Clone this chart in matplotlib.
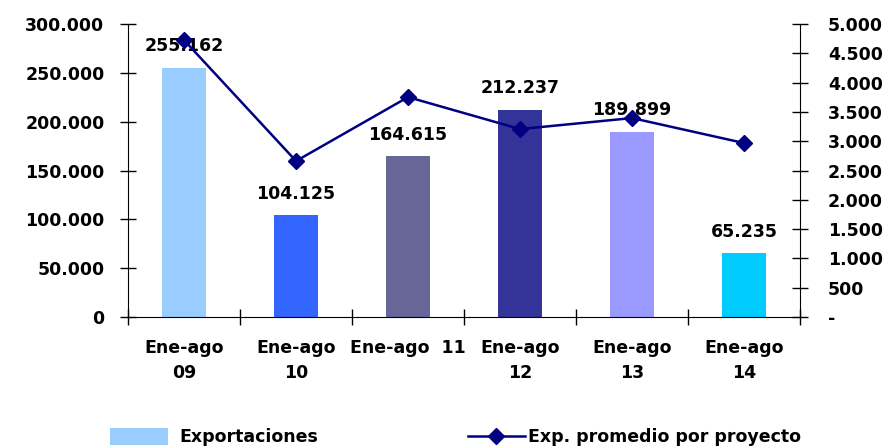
import matplotlib
matplotlib.use("Agg")
import matplotlib.pyplot as plt
from matplotlib.lines import Line2D
from matplotlib.patches import Patch
from matplotlib.ticker import FuncFormatter, FixedLocator, NullFormatter

# data
categories = ["Ene-ago\n09", "Ene-ago\n10", "Ene-ago  11", "Ene-ago\n12", "Ene-ago\n13", "Ene-ago\n14"]
exportaciones = [255162, 104125, 164615, 212237, 189899, 65235]
promedio = [4727, 2662, 3754, 3208, 3396, 2969]
bar_colors = ["#99CCFF", "#3366FF", "#666699", "#333399", "#9999FF", "#00CCFF"]

plt.rcParams['font.family'] = ['DejaVu Sans']
plt.rcParams['font.weight'] = 'bold'
FS = 12.5


def miles(v, pos=None):
    # thousands separated with dots
    return f"{int(round(v)):,}".replace(",", ".")


def miles_guion(v, pos=None):
    if v == 0:
        return "-"
    return miles(v)


fig = plt.figure(figsize=(8.89, 4.47), dpi=100)
ax = fig.add_axes([0.144, 0.291, 0.756, 0.655])
x = list(range(len(categories)))

ax.bar(x, exportaciones, width=0.4, color=bar_colors, zorder=2)
for i, v in enumerate(exportaciones):
    ax.annotate(miles(v), (i, v), xytext=(0, 9), textcoords="offset points",
                ha="center", va="bottom", fontsize=FS, fontweight="bold")

ax.set_xlim(-0.5, len(categories) - 0.5)
ax.set_ylim(0, 300000)
ax.set_yticks(range(0, 300001, 50000))
ax.yaxis.set_major_formatter(FuncFormatter(miles))
ax.tick_params(axis="y", direction="inout", length=12, width=1, labelsize=FS, pad=11)

# ticks between categories, labels centred on bars
ax.xaxis.set_major_locator(FixedLocator([i + 0.5 for i in range(-1, len(categories))]))
ax.xaxis.set_major_formatter(NullFormatter())
ax.xaxis.set_minor_locator(FixedLocator(x))
ax.set_xticklabels(categories, minor=True)
ax.tick_params(axis="x", which="major", direction="inout", length=12, width=1)
ax.tick_params(axis="x", which="minor", length=0, pad=16, labelsize=FS)
for lab in ax.get_xticklabels(minor=True):
    lab.set_linespacing(1.5)
    lab.set_va("top")

ax.spines["top"].set_visible(False)
ax.spines["right"].set_visible(False)

ax2 = ax.twinx()
ax2.plot(x, promedio, color="#000080", lw=1.8, marker="D", markersize=8, zorder=3)
ax2.set_ylim(0, 5000)
ax2.set_yticks(range(0, 5001, 500))
ax2.yaxis.set_major_formatter(FuncFormatter(miles_guion))
ax2.tick_params(axis="y", direction="inout", length=12, width=1, labelsize=FS, pad=14)
ax2.spines["top"].set_visible(False)
ax2.spines["left"].set_visible(False)
ax2.spines["bottom"].set_visible(False)

# legend at the bottom
h1 = Patch(facecolor=bar_colors[0], edgecolor="none")
h2 = Line2D([], [], color="#000080", lw=1.8, marker="D", markersize=8)
fig.legend([h1], ["Exportaciones"], loc="center left", bbox_to_anchor=(0.124, 0.022),
           frameon=False, fontsize=FS, handlelength=3.3, handleheight=1.1,
           handletextpad=0.7, borderaxespad=0, borderpad=0)
fig.legend([h2], ["Exp. promedio por proyecto"], loc="center left", bbox_to_anchor=(0.526, 0.022),
           frameon=False, fontsize=FS, handlelength=3.3, handletextpad=0.2,
           borderaxespad=0, borderpad=0)

fig.savefig("out.png", dpi=100)
